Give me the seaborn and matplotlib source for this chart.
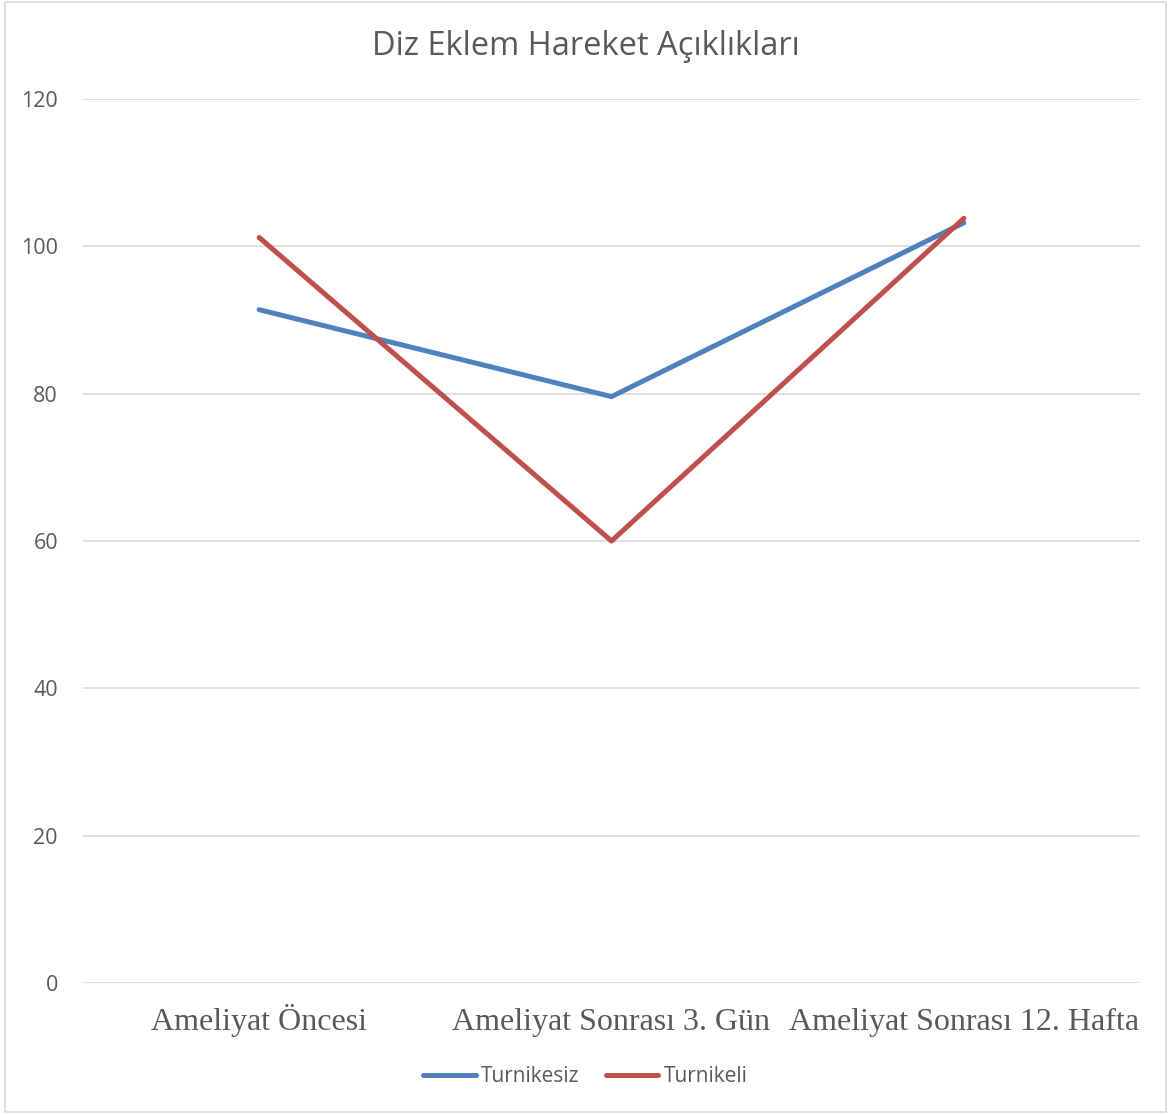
import matplotlib
matplotlib.use("Agg")
import matplotlib.pyplot as plt
import seaborn as sns
import pandas as pd
from matplotlib.patches import Rectangle

categories = ["Ameliyat Öncesi", "Ameliyat Sonrası 3. Gün", "Ameliyat Sonrası 12. Hafta"]
turnikesiz = [91.4, 79.6, 103.2]
turnikeli = [101.2, 60.0, 103.8]
series_names = ["Turnikesiz", "Turnikeli"]
colors = ["#4F81BD", "#C0504D"]

df = pd.DataFrame({
    "Zaman": categories * 2,
    "x": list(range(len(categories))) * 2,
    "Değer": turnikesiz + turnikeli,
    "Grup": [series_names[0]] * 3 + [series_names[1]] * 3,
})

sns.set_theme(style="white")
plt.rcParams["font.family"] = ["Open Sans", "DejaVu Sans"]

W, H = 1171, 1114
fig = plt.figure(figsize=(W / 100, H / 100), dpi=100)
ax = fig.add_axes([83 / W, 1 - 983 / H, (1140 - 83) / W, (983 - 99) / H])

sns.lineplot(data=df, x="x", y="Değer", hue="Grup", palette=colors,
             linewidth=3.6, sort=False, ax=ax, legend=True,
             solid_capstyle="round")

ax.set_xlim(-0.5, 2.5)
ax.set_ylim(0, 120)
ax.set_yticks(range(0, 121, 20))
ax.set_xticks(range(len(categories)))
ax.set_xticklabels(categories, fontfamily="Liberation Serif", fontsize=23, color="#595959")
for lbl in ax.get_xticklabels():
    lbl.set_verticalalignment("baseline")
ax.tick_params(axis="x", length=0, pad=34)
ax.tick_params(axis="y", length=0, pad=18, labelsize=15.5, labelcolor="#595959")
ax.grid(axis="y", color="#D9D9D9", linewidth=1.2)
ax.set_axisbelow(True)
for s in ax.spines.values():
    s.set_visible(False)
ax.set_xlabel("")
ax.set_ylabel("")

fig.text(0.5, 1 - 55 / H, "Diz Eklem Hareket Açıklıkları", ha="center", va="baseline",
         fontsize=23.5, color="#595959")

leg = ax.legend(loc="center", bbox_to_anchor=(0.5, 1 - 1077 / H), bbox_transform=fig.transFigure,
                ncol=2, frameon=False, fontsize=15, handlelength=2.5, handletextpad=0.25,
                columnspacing=1.3, labelcolor="#595959")
for line in leg.get_lines():
    line.set_linewidth(3.6)
    line.set_solid_capstyle("round")

fig.patches.append(Rectangle((5 / W, 2 / H), 1 - 10 / W, 1 - 4 / H,
                             transform=fig.transFigure, fill=False,
                             edgecolor="#D9D9D9", linewidth=1.2))

fig.savefig("out.png", dpi=100)
